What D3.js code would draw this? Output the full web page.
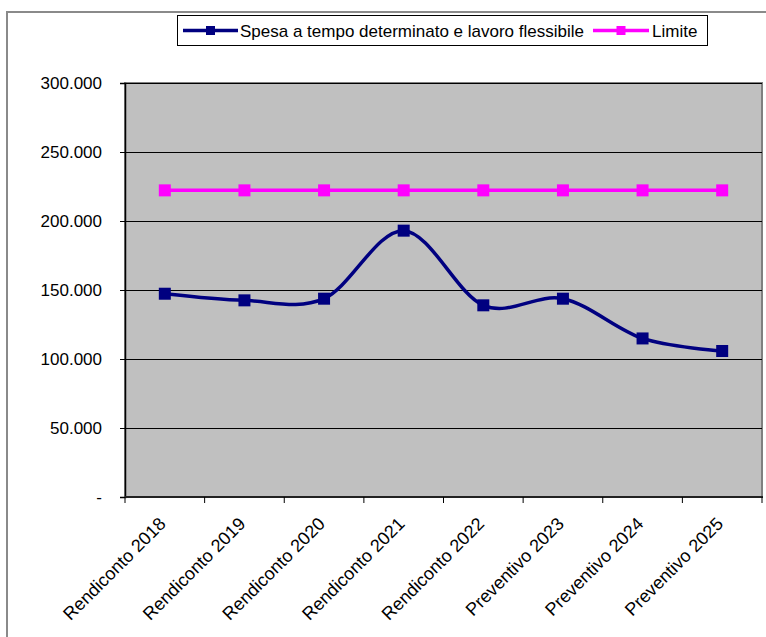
<!DOCTYPE html>
<html>
<head>
<meta charset="utf-8">
<script src="https://cdn.jsdelivr.net/npm/d3@7"></script>
<style>
  html, body { margin: 0; padding: 0; background: #fff; }
  svg { display: block; }
  text { font-family: "Liberation Sans", Arial, sans-serif; fill: #000; }
</style>
</head>
<body>
<svg id="chart" width="766" height="637"></svg>
<script>
const categories = [
  "Rendiconto 2018", "Rendiconto 2019", "Rendiconto 2020", "Rendiconto 2021",
  "Rendiconto 2022", "Preventivo 2023", "Preventivo 2024", "Preventivo 2025"
];
const spesa = [147300, 142500, 143700, 193000, 138900, 143700, 114900, 105800];
const limite = [222200, 222200, 222200, 222200, 222200, 222200, 222200, 222200];
const yTicks = [0, 50000, 100000, 150000, 200000, 250000, 300000];
const yTickLabels = ["-", "50.000", "100.000", "150.000", "200.000", "250.000", "300.000"];
const seriesNames = ["Spesa a tempo determinato e lavoro flessibile", "Limite"];
const seriesColors = ["#000080", "#FF00FF"];

const svg = d3.select("#chart");
const W = 766, H = 637;
const plot = { left: 125, top: 83, right: 762, bottom: 497 };

// outer frame (left and top visible)
svg.append("path")
  .attr("d", `M7,${H + 5} L7,12 L${W + 5},12`)
  .attr("fill", "none").attr("stroke", "#8a8a8a").attr("stroke-width", 2);

const x = d3.scaleBand().domain(categories).range([plot.left, plot.right]).padding(0);
const y = d3.scaleLinear().domain([0, 300000]).range([plot.bottom, plot.top]);

// plot area
svg.append("rect")
  .attr("x", plot.left).attr("y", plot.top)
  .attr("width", plot.right - plot.left).attr("height", plot.bottom - plot.top)
  .attr("fill", "#C0C0C0").attr("stroke", "#808080").attr("stroke-width", 2);

// gridlines
svg.append("g").selectAll("line")
  .data(yTicks.filter(d => d > 0))
  .join("line")
  .attr("x1", plot.left).attr("x2", plot.right)
  .attr("y1", d => Math.round(y(d)) + 0.5).attr("y2", d => Math.round(y(d)) + 0.5)
  .attr("stroke", "#000").attr("stroke-width", 1);

// y axis
const yAxis = d3.axisLeft(y).tickValues(yTicks).tickSize(5).tickPadding(18)
  .tickFormat((d, i) => yTickLabels[i]);
const gy = svg.append("g").attr("transform", `translate(${plot.left},0)`).call(yAxis);
gy.select(".domain").attr("stroke", "#000").attr("stroke-width", 1.5);
gy.selectAll(".tick line").attr("stroke", "#000");
gy.selectAll(".tick text").style("font-size", "17px").attr("fill", "#000")
  .style("font-family", '"Liberation Sans", Arial, sans-serif');

// x axis: ticks at category boundaries
const gx = svg.append("g").attr("transform", `translate(0,${plot.bottom})`);
gx.append("line").attr("x1", plot.left).attr("x2", plot.right + 1)
  .attr("y1", 0).attr("y2", 0).attr("stroke", "#222").attr("stroke-width", 2);
const bounds = categories.map(c => x(c)).concat([x(categories[categories.length - 1]) + x.bandwidth()]);
gx.selectAll("line.tk").data(bounds).join("line").attr("class", "tk")
  .attr("x1", d => d).attr("x2", d => d).attr("y1", 0).attr("y2", 6)
  .attr("stroke", "#000").attr("stroke-width", 1);
gx.selectAll("text").data(categories).join("text")
  .attr("transform", d => `translate(${x(d) + x.bandwidth() / 2 - 7},${19}) rotate(-45)`)
  .attr("text-anchor", "end").attr("dy", "0.71em")
  .style("font-size", "18px")
  .text(d => d);

// series
const cx = d => x(d) + x.bandwidth() / 2;
const lineSmooth = d3.line().x((d, i) => cx(categories[i])).y(d => y(d)).curve(d3.curveCatmullRom.alpha(0));
const lineStraight = d3.line().x((d, i) => cx(categories[i])).y(d => y(d));

const series = [
  { name: seriesNames[0], values: spesa, color: seriesColors[0], gen: lineSmooth },
  { name: seriesNames[1], values: limite, color: seriesColors[1], gen: lineStraight }
];
const ms = 12;
series.slice().reverse().forEach(s => {
  svg.append("path").datum(s.values).attr("d", s.gen)
    .attr("fill", "none").attr("stroke", s.color).attr("stroke-width", 3.5)
    .attr("stroke-linejoin", "round");
  svg.append("g").selectAll("rect").data(s.values).join("rect")
    .attr("x", (d, i) => cx(categories[i]) - ms / 2).attr("y", d => y(d) - ms / 2)
    .attr("width", ms).attr("height", ms).attr("fill", s.color);
});

// legend
const lg = svg.append("g");
lg.append("rect").attr("x", 177.5).attr("y", 15.5).attr("width", 530).attr("height", 30)
  .attr("fill", "#fff").attr("stroke", "#000").attr("stroke-width", 1);
const legendItems = [
  { x1: 183, x2: 238, tx: 240 },
  { x1: 593, x2: 649, tx: 652 }
];
series.forEach((s, i) => {
  const it = legendItems[i];
  lg.append("line").attr("x1", it.x1).attr("x2", it.x2).attr("y1", 30.5).attr("y2", 30.5)
    .attr("stroke", s.color).attr("stroke-width", 3.5);
  lg.append("rect").attr("x", (it.x1 + it.x2) / 2 - 4.5).attr("y", 26).attr("width", 9).attr("height", 9)
    .attr("fill", s.color);
  lg.append("text").attr("x", it.tx).attr("y", 36.5).style("font-size", "17px").text(s.name);
});
</script>
</body>
</html>
